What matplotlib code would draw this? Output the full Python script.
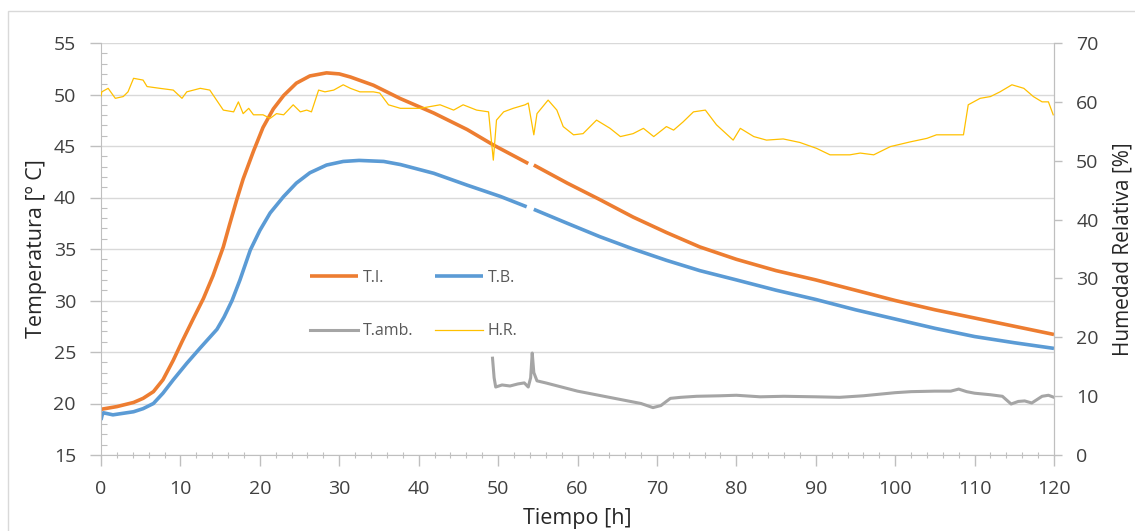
import numpy as np
import matplotlib
matplotlib.use("Agg")
import matplotlib.pyplot as plt
from matplotlib.patches import Rectangle
from matplotlib.ticker import MultipleLocator

plt.rcParams['font.family'] = ['Open Sans', 'DejaVu Sans']

# ---------------- data ----------------
t_ti = [0, 0.1, 2.0, 4.1, 5.3, 6.6, 7.8, 9.1, 10.2, 11.6, 12.9, 14.1, 15.4, 16.2, 17.1,
        17.9, 19.2, 20.4, 21.7, 23.0, 24.6, 26.3, 28.4, 30.0, 31.4, 34.3, 37.7, 41.9,
        46.1, 49.4, 53.8, 54.1, 54.5, 58.7, 62.8, 67.0, 71.2, 75.4, 80, 85, 90, 95, 100,
        105, 110, 115, 120]
ti = [19.4, 19.45, 19.7, 20.1, 20.5, 21.15, 22.3, 24.2, 26.0, 28.2, 30.2, 32.4, 35.2,
      37.4, 39.8, 41.8, 44.5, 46.8, 48.6, 49.9, 51.1, 51.8, 52.1, 52.0, 51.7, 50.9,
      49.6, 48.2, 46.6, 45.1, 43.3, np.nan, 43.15, 41.4, 39.8, 38.1, 36.6, 35.2, 34.0,
      32.9, 32.0, 31.0, 30.0, 29.1, 28.3, 27.5, 26.7]

t_tb = [0, 0.15, 0.3, 1.5, 4.1, 5.3, 6.6, 7.8, 9.1, 10.8, 12.5, 14.6, 15.5, 16.5, 17.5,
        18.8, 20.0, 21.3, 23.0, 24.6, 26.3, 28.4, 30.5, 32.5, 35.6, 37.7, 41.9, 46.1,
        50.3, 53.6, 54.0, 54.5, 58.7, 62.8, 67.0, 71.2, 75.4, 80, 85, 90, 95, 100, 105,
        110, 115, 120]
tb = [18.4, 18.9, 19.1, 18.9, 19.2, 19.5, 20.0, 21.0, 22.3, 23.9, 25.4, 27.2, 28.4,
      30.0, 32.0, 34.9, 36.8, 38.5, 40.1, 41.4, 42.4, 43.15, 43.5, 43.6, 43.5, 43.2,
      42.35, 41.2, 40.1, 39.1, np.nan, 38.85, 37.5, 36.2, 35.0, 33.9, 32.9, 32.0, 31.0,
      30.1, 29.1, 28.2, 27.3, 26.5, 25.9, 25.35]

t_amb = [49.3, 49.5, 49.7, 50.5, 51.5, 52.5, 53.3, 53.8, 54.1, 54.3, 54.5, 54.9, 56, 58,
         60, 62, 64, 66, 68, 69.5, 70.5, 71.7, 73, 75, 78, 80, 83, 86, 90, 93, 96, 98,
         100, 102, 105, 107, 108, 109, 110, 112, 113.5, 114.6, 115.5, 116.3, 117.2,
         118.5, 119.3, 120]
tamb = [24.4, 22.5, 21.6, 21.8, 21.7, 21.9, 22.0, 21.6, 22.5, 24.9, 23.0, 22.2, 22.0,
        21.6, 21.2, 20.9, 20.6, 20.3, 20.0, 19.6, 19.8, 20.5, 20.6, 20.7, 20.75, 20.8,
        20.65, 20.7, 20.65, 20.6, 20.75, 20.9, 21.05, 21.15, 21.2, 21.2, 21.4, 21.15,
        21.0, 20.85, 20.7, 19.95, 20.2, 20.25, 20.05, 20.7, 20.8, 20.6]

t_hr = [0.0, 0.1, 0.9, 1.8, 2.8, 3.4, 4.1, 5.3, 5.8, 7.4, 9.1, 10.2, 10.8, 12.5, 13.7,
        15.4, 16.7, 17.3, 17.9, 18.6, 19.2, 20.4, 21.3, 22.1, 23.0, 24.2, 25.1, 25.9,
        26.5, 27.4, 28.2, 29.3, 30.5, 31.4, 32.6, 34.3, 35.1, 36.2, 37.7, 40.2, 42.7,
        44.4, 45.6, 47.3, 48.8, 49.4, 49.8, 50.7, 51.9, 53.4, 53.8, 54.5, 54.9, 56.3,
        57.4, 58.2, 59.5, 60.7, 62.4, 64.1, 65.4, 67.0, 68.3, 69.6, 71.2, 72.1, 73.3,
        74.6, 76.1, 77.5, 79.6, 80.5, 82.2, 83.8, 85.9, 88.0, 90.1, 91.8, 94.3, 95.6,
        97.3, 99.4, 101.9, 104.0, 105.2, 108.6, 109.2, 110.7, 112.0, 113.2, 114.7,
        116.2, 117.4, 118.5, 119.3, 119.9]
hr = [61.0, 61.7, 62.3, 60.6, 60.9, 61.7, 64.0, 63.7, 62.6, 62.3, 62.0, 60.6, 61.7,
      62.3, 62.0, 58.6, 58.3, 60.0, 58.0, 58.9, 57.8, 57.8, 57.2, 58.0, 57.8, 59.5,
      58.3, 58.6, 58.3, 62.0, 61.7, 62.0, 62.9, 62.3, 61.7, 61.7, 61.5, 59.5, 58.9,
      58.9, 59.5, 58.6, 59.5, 58.6, 58.3, 50.1, 56.9, 58.3, 58.9, 59.5, 59.8, 54.4,
      58.0, 60.3, 58.6, 55.8, 54.4, 54.6, 56.9, 55.5, 54.1, 54.6, 55.5, 54.1, 55.8,
      55.2, 56.6, 58.3, 58.6, 56.1, 53.5, 55.5, 54.1, 53.5, 53.7, 53.1, 52.1, 51.0,
      51.0, 51.3, 51.0, 52.4, 53.2, 53.8, 54.4, 54.4, 59.5, 60.6, 60.9, 61.7, 62.9,
      62.3, 60.9, 60.0, 60.0, 57.8]

x_ticks = list(range(0, 121, 10))
y_left_ticks = list(range(15, 56, 5))
y_right_ticks = list(range(0, 71, 10))

# ---------------- figure ----------------
W, H = 1135, 531
fig = plt.figure(figsize=(W / 100, H / 100), dpi=100)
fig.patch.set_facecolor('white')
fig.add_artist(Rectangle((8 / W, -0.1), 1.2, 1.1 - 11 / H, transform=fig.transFigure,
                         fill=False, edgecolor='#D9D9D9', linewidth=1.0))

ax = fig.add_axes([101 / W, (H - 455) / H, 953 / W, 412 / H])
ax2 = ax.twinx()

c_ti, c_tb, c_amb, c_hr = '#ED7D31', '#5B9BD5', '#A5A5A5', '#FFC000'

l1, = ax.plot(t_ti, ti, color=c_ti, lw=2.6, label='T.I.', solid_capstyle='butt')
l2, = ax.plot(t_tb, tb, color=c_tb, lw=2.6, label='T.B.', solid_capstyle='butt')
l3, = ax.plot(t_amb, tamb, color=c_amb, lw=2.2, label='T.amb.')
l4, = ax2.plot(t_hr, hr, color=c_hr, lw=0.9, label='H.R.')

ax.set_xlim(0, 120)
ax.set_ylim(15, 55)
ax2.set_ylim(0, 70)

ax.set_xticks(x_ticks)
ax.set_yticks(y_left_ticks)
ax2.set_yticks(y_right_ticks)
ax.xaxis.set_minor_locator(MultipleLocator(2))
ax.yaxis.set_minor_locator(MultipleLocator(1))

ax.grid(axis='y', which='major', color='#D9D9D9', lw=1.0)
ax.set_axisbelow(True)

spine_c = '#BFBFBF'
for a in (ax, ax2):
    a.spines['top'].set_visible(False)
    for s in ('left', 'right', 'bottom'):
        a.spines[s].set_color(spine_c)
ax2.spines['left'].set_visible(False)
ax2.spines['bottom'].set_visible(False)

tick_c = '#404040'
ax.tick_params(axis='x', which='major', direction='out', length=8, width=1, color=spine_c,
               labelsize=14, labelcolor=tick_c, pad=10)
ax.tick_params(axis='x', which='minor', direction='inout', length=5, width=0.8, color=spine_c)
ax.tick_params(axis='y', which='major', direction='out', length=8, width=1, color=spine_c,
               labelsize=14, labelcolor=tick_c, pad=10)
ax.tick_params(axis='y', which='minor', direction='in', length=4, width=0.8, color=spine_c)
ax2.tick_params(axis='y', which='major', direction='out', length=6, width=1, color=spine_c,
                labelsize=14, labelcolor=tick_c, pad=10)

lab_c = '#262626'
ax.set_xlabel('Tiempo [h]', fontsize=15.5, color=lab_c, labelpad=7)
ax.set_ylabel('Temperatura [º C]', fontsize=15.5, color=lab_c, labelpad=5)
ax2.set_ylabel('Humedad Relativa [%]', fontsize=15, color=lab_c, labelpad=10)

leg = ax2.legend(handles=[l1, l3, l2, l4], ncol=2, loc='upper left',
                 bbox_to_anchor=(0.219, 0.45), frameon=False, fontsize=11.5,
                 handlelength=3.0, handletextpad=0.3, columnspacing=1.4,
                 labelspacing=2.35, borderpad=0, borderaxespad=0)
for txt in leg.get_texts():
    txt.set_color('#595959')

fig.savefig('out.png', dpi=100, facecolor='white')
